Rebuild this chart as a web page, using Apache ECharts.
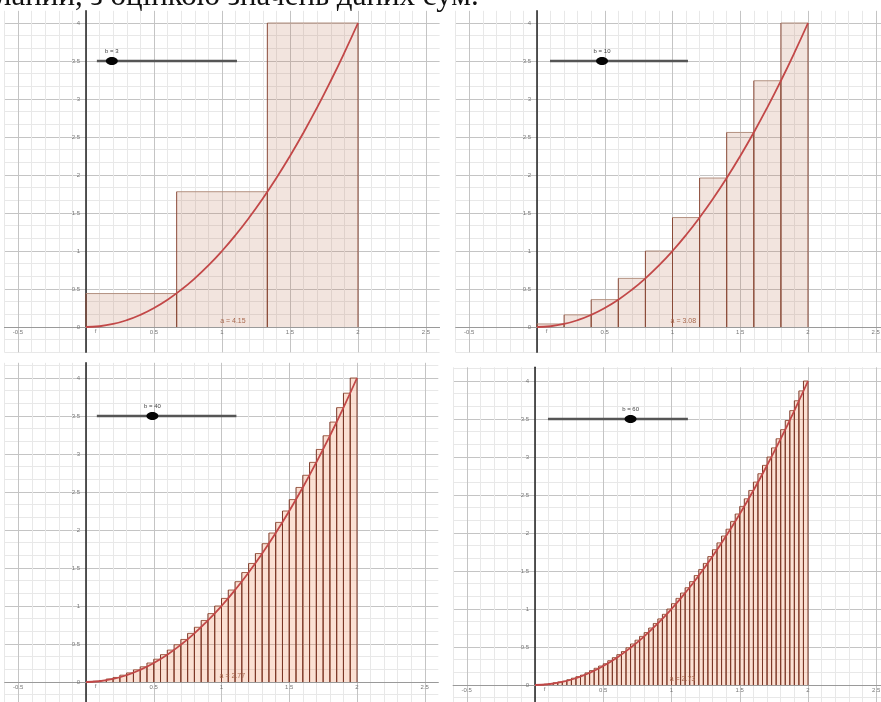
<!DOCTYPE html>
<html>
<head>
<meta charset="utf-8">
<script src="https://cdn.jsdelivr.net/npm/echarts@6/dist/echarts.min.js"></script>
<style>
html,body{margin:0;padding:0;background:#fff;}
#chart{width:881px;height:702px;}
</style>
</head>
<body>
<div id="chart"></div>
<script>
// ---------- data ----------
const panelN = [3, 10, 40, 60];
const heights3 = [0.44, 1.78, 4.00];
const heights10 = [0.04, 0.16, 0.36, 0.64, 1.00, 1.44, 1.96, 2.56, 3.24, 4.00];
const heights40 = [0.00, 0.01, 0.02, 0.04, 0.06, 0.09, 0.12, 0.16, 0.20, 0.25,
                   0.30, 0.36, 0.42, 0.49, 0.56, 0.64, 0.72, 0.81, 0.90, 1.00,
                   1.10, 1.21, 1.32, 1.44, 1.56, 1.69, 1.82, 1.96, 2.10, 2.25,
                   2.40, 2.56, 2.72, 2.89, 3.06, 3.24, 3.42, 3.61, 3.80, 4.00];
const heights60 = [0.00, 0.00, 0.01, 0.02, 0.03, 0.04, 0.05, 0.07, 0.09, 0.11,
                   0.13, 0.16, 0.19, 0.22, 0.25, 0.28, 0.32, 0.36, 0.40, 0.44,
                   0.49, 0.54, 0.59, 0.64, 0.69, 0.75, 0.81, 0.87, 0.93, 1.00,
                   1.07, 1.14, 1.21, 1.28, 1.36, 1.44, 1.52, 1.60, 1.69, 1.78,
                   1.87, 1.96, 2.05, 2.15, 2.25, 2.35, 2.45, 2.56, 2.67, 2.78,
                   2.89, 3.00, 3.12, 3.24, 3.36, 3.48, 3.61, 3.74, 3.87, 4.00];
const sumValues = ['4.15', '3.08', '2.77', '2.73'];
const intervalEnd = 2;
const curveX = [0, 0.1, 0.2, 0.3, 0.4, 0.5, 0.6, 0.7, 0.8, 0.9, 1, 1.1, 1.2, 1.3, 1.4, 1.5, 1.6, 1.7, 1.8, 1.9, 2];
const curveY = [0, 0.01, 0.04, 0.09, 0.16, 0.25, 0.36, 0.49, 0.64, 0.81, 1, 1.21, 1.44, 1.69, 1.96, 2.25, 2.56, 2.89, 3.24, 3.61, 4];
const xTickLabels = ['-0.5', '0.5', '1', '1.5', '2', '2.5'];
const yTickLabels = ['0', '0.5', '1', '1.5', '2', '2.5', '3', '3.5', '4'];
const headerText = 'ланий, з оцінкою значень даних сум.';
const allHeights = [heights3, heights10, heights40, heights60];

// ---------- layout ----------
const panels = [
  {x0: 86,  ux: 136,   xmin: -0.6, xmax: 2.6,  y0: 327, uy: 76, ymax: 4.16, s0: 0.08,  s1: 1.11,  knob: 0.19, dense: false},
  {x0: 537, ux: 135.5, xmin: -0.6, xmax: 2.55, y0: 327, uy: 76, ymax: 4.16, s0: 0.096, s1: 1.114, knob: 0.48, dense: false},
  {x0: 86,  ux: 135.5, xmin: -0.6, xmax: 2.6,  y0: 682, uy: 76, ymax: 4.2,  s0: 0.08,  s1: 1.11,  knob: 0.49, dense: true},
  {x0: 535, ux: 136.5, xmin: -0.6, xmax: 2.54, y0: 685, uy: 76, ymax: 4.18, s0: 0.095, s1: 1.12,  knob: 0.70, dense: true}
];
const YMIN = -1 / 3;
const MINOR = '#e8e8e8', MAJOR = '#c4c4c4';
const fmt = v => String(+(+v).toFixed(2));

const grids = [], xAxes = [], yAxes = [], series = [];
panels.forEach((p, i) => {
  grids.push({
    left: p.x0 + p.xmin * p.ux,
    top: p.y0 - p.ymax * p.uy,
    width: (p.xmax - p.xmin) * p.ux,
    height: (p.ymax - YMIN) * p.uy,
    outerBoundsMode: 'none',
    containLabel: false
  });
  xAxes.push({
    type: 'value', gridIndex: i, min: p.xmin, max: p.xmax, interval: 0.1,
    position: 'bottom', offset: YMIN * p.uy,
    axisLine: {onZero: false, lineStyle: {color: '#9a9a9a', width: 1}},
    axisTick: {show: false},
    axisLabel: {fontSize: 6, color: '#777', margin: 2, hideOverlap: false,
      formatter: v => { const s = fmt(v); return xTickLabels.includes(s) ? s : ''; }},
    splitLine: {show: true, showMaxLine: false, lineStyle: {color: [MINOR, MAJOR, MINOR, MINOR, MINOR], width: 1}},
    z: 1
  });
  yAxes.push({
    type: 'value', gridIndex: i, min: YMIN, max: p.ymax, interval: 1 / 6,
    position: 'left', offset: p.xmin * p.ux,
    axisLine: {onZero: false, lineStyle: {color: '#222', width: 1.5}},
    axisTick: {show: false},
    axisLabel: {fontSize: 6, color: '#777', margin: 6, hideOverlap: false,
      formatter: v => { const s = fmt(v); return yTickLabels.includes(s) ? s : ''; }},
    splitLine: {show: true, showMaxLine: false, lineStyle: {color: [MINOR, MINOR, MAJOR], width: 1}},
    z: 1
  });

  const hs = allHeights[i];
  const n = panelN[i];
  const w = intervalEnd / n;
  const barData = hs.map((h, k) => [k * w, (k + 1) * w, h]);
  const fill = p.dense ? 'rgba(240,130,80,0.25)' : 'rgba(190,120,90,0.2)';
  const topCol = p.dense ? '#a0604a' : '#b39080';
  const sideCol = p.dense ? '#7a3626' : '#8a4a38';
  series.push({
    type: 'custom', xAxisIndex: i, yAxisIndex: i, z: 2, clip: true,
    data: barData,
    renderItem: (params, api) => {
      const a = api.coord([api.value(0), api.value(2)]);
      const b = api.coord([api.value(1), 0]);
      return {type: 'group', children: [
        {type: 'rect', shape: {x: a[0], y: a[1], width: b[0] - a[0], height: b[1] - a[1]}, style: {fill: fill}},
        {type: 'line', shape: {x1: a[0], y1: a[1], x2: b[0], y2: a[1]}, style: {stroke: topCol, lineWidth: 1}},
        {type: 'line', shape: {x1: a[0], y1: a[1], x2: a[0], y2: b[1]}, style: {stroke: sideCol, lineWidth: 1}},
        {type: 'line', shape: {x1: b[0], y1: a[1], x2: b[0], y2: b[1]}, style: {stroke: sideCol, lineWidth: 1}}
      ]};
    }
  });
  series.push({
    type: 'line', xAxisIndex: i, yAxisIndex: i, z: 3, smooth: true, showSymbol: false,
    data: curveX.map((x, k) => [x, curveY[k]]),
    lineStyle: {color: '#c24848', width: 1.8}, silent: true
  });
  // slider and labels
  series.push({
    type: 'custom', xAxisIndex: i, yAxisIndex: i, z: 4, clip: false,
    data: [[p.s0, p.s1, 3.5, p.knob]],
    renderItem: (params, api) => {
      const a = api.coord([api.value(0), api.value(2)]);
      const b = api.coord([api.value(1), api.value(2)]);
      const k = api.coord([api.value(3), api.value(2)]);
      return {type: 'group', children: [
        {type: 'line', shape: {x1: a[0], y1: a[1], x2: b[0], y2: b[1]}, style: {stroke: '#555', lineWidth: 2.5}},
        {type: 'ellipse', shape: {cx: k[0], cy: k[1], rx: 6, ry: 4}, style: {fill: '#050505'}},
        {type: 'text', x: k[0], y: k[1] - 10, style: {text: 'b = ' + panelN[i], fill: '#444', font: '6px sans-serif', align: 'center', verticalAlign: 'middle'}}
      ]};
    }
  });
  series.push({
    type: 'custom', xAxisIndex: i, yAxisIndex: i, z: 5, clip: false,
    data: [[1.08, 0.08]],
    renderItem: (params, api) => {
      const c = api.coord([api.value(0), api.value(1)]);
      return {type: 'group', children: [
        {type: 'text', x: c[0], y: c[1], style: {text: 'a = ' + sumValues[i], fill: '#a8684e', font: '7px sans-serif', align: 'center', verticalAlign: 'middle'}}
      ]};
    }
  });
  series.push({
    type: 'custom', xAxisIndex: i, yAxisIndex: i, z: 5, clip: false,
    data: [[0.07, -0.06]],
    renderItem: (params, api) => {
      const c = api.coord([api.value(0), api.value(1)]);
      return {type: 'text', x: c[0], y: c[1], style: {text: 'f', fill: '#777', font: '6px sans-serif', align: 'center', verticalAlign: 'middle'}};
    }
  });
});

const chart = echarts.init(document.getElementById('chart'), null, {renderer: 'canvas'});
chart.setOption({
  backgroundColor: '#ffffff',
  animation: false,
  grid: grids,
  xAxis: xAxes,
  yAxis: yAxes,
  series: series,
  graphic: [{
    type: 'text', left: -4, top: -19, z: 10,
    style: {text: headerText, font: '31px "Liberation Serif"', fill: '#111'}
  }]
});
</script>
</body>
</html>
